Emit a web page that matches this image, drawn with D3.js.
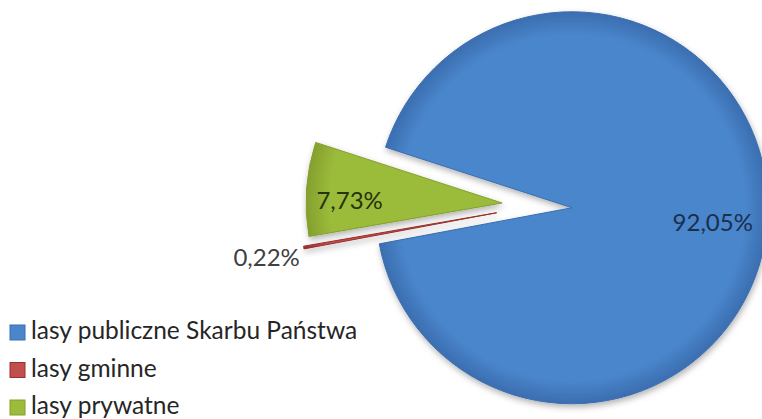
<!DOCTYPE html>
<html lang="pl">
<head>
    <meta charset="UTF-8">
    <title>Struktura własności lasów</title>
    <script src="https://d3js.org/d3.v7.min.js"></script>
    <style>
        body { margin: 0; background: #fff; font-family: Lato, "Open Sans", sans-serif; }
        .label { font-size: 24px; }
        .legend text { font-size: 24.5px; fill: #262626; }
    </style>
</head>
<body>
    <svg width="762" height="419"></svg>

    <script>
        // dane
        const categories = ["lasy publiczne Skarbu Państwa", "lasy gminne", "lasy prywatne"];
        const shares = [92.05, 0.22, 7.73];
        const labels = ["92,05%", "0,22%", "7,73%"];

        const colors = ["#4a86cc", "#c0504d", "#9bbb3b"];
        const edgeColors = ["#3b6eb0", "#99302d", "#84a02d"];
        const textColors = ["#1b2f4d", "#404040", "#26330c"];
        const explode = [35, 41, 35];

        const width = 762, height = 419;
        const cx = 537, cy = 205.5, radius = 196;
        const startDeg = 288;

        const svg = d3.select("svg");
        const defs = svg.append("defs");

        const shadow = defs.append("filter").attr("id", "shadow")
            .attr("x", "-20%").attr("y", "-20%").attr("width", "140%").attr("height", "140%");
        shadow.append("feDropShadow")
            .attr("dx", 1).attr("dy", 3).attr("stdDeviation", 3)
            .attr("flood-color", "#000").attr("flood-opacity", 0.3);

        colors.forEach((c, i) => {
            const g = defs.append("radialGradient").attr("id", "grad" + i)
                .attr("gradientUnits", "userSpaceOnUse")
                .attr("cx", 0).attr("cy", 0).attr("r", radius);
            g.append("stop").attr("offset", "0%").attr("stop-color", c);
            g.append("stop").attr("offset", "88%").attr("stop-color", c);
            g.append("stop").attr("offset", "100%").attr("stop-color", edgeColors[i]);
        });

        const pie = d3.pie().sort(null)
            .startAngle(startDeg * Math.PI / 180)
            .endAngle(startDeg * Math.PI / 180 + 2 * Math.PI);
        const arcs = pie(shares);
        const arc = d3.arc().innerRadius(0).outerRadius(radius);

        const offset = (d, i) => {
            const a = (d.startAngle + d.endAngle) / 2;
            return [explode[i] * Math.sin(a), -explode[i] * Math.cos(a)];
        };

        const chart = svg.append("g").attr("transform", `translate(${cx},${cy})`);

        const slices = chart.selectAll(".slice")
            .data(arcs)
            .enter().append("g")
            .attr("class", "slice")
            .attr("transform", (d, i) => `translate(${offset(d, i)})`);

        slices.append("path")
            .attr("d", arc)
            .attr("fill", (d, i) => `url(#grad${i})`)
            .attr("stroke", (d, i) => edgeColors[i])
            .attr("stroke-width", 1)
            .attr("filter", "url(#shadow)");

        // etykiety
        slices.each(function(d, i) {
            const a = (d.startAngle + d.endAngle) / 2;
            const g = d3.select(this);
            if (i === 1) {
                const r = radius + 4;
                g.append("text").attr("class", "label")
                    .attr("x", r * Math.sin(a))
                    .attr("y", -r * Math.cos(a))
                    .attr("dy", "0.75em")
                    .attr("text-anchor", "end")
                    .attr("fill", textColors[i])
                    .text(labels[i]);
            } else {
                const r = i === 0 ? radius * 0.72 : radius * 0.78;
                g.append("text").attr("class", "label")
                    .attr("x", r * Math.sin(a))
                    .attr("y", -r * Math.cos(a))
                    .attr("dy", i === 0 ? "0.6em" : "0.7em")
                    .attr("text-anchor", "middle")
                    .attr("fill", textColors[i])
                    .text(labels[i]);
            }
        });

        // legenda
        const legend = svg.append("g").attr("class", "legend")
            .attr("transform", "translate(10, 339)");

        categories.forEach((cat, i) => {
            const row = legend.append("g")
                .attr("transform", `translate(0, ${i * 37.5})`);
            row.append("rect")
                .attr("y", -14)
                .attr("width", 15)
                .attr("height", 15)
                .attr("fill", colors[i])
                .attr("stroke", edgeColors[i]);
            row.append("text")
                .attr("x", 21)
                .attr("y", 0)
                .text(cat);
        });
    </script>
</body>
</html>
